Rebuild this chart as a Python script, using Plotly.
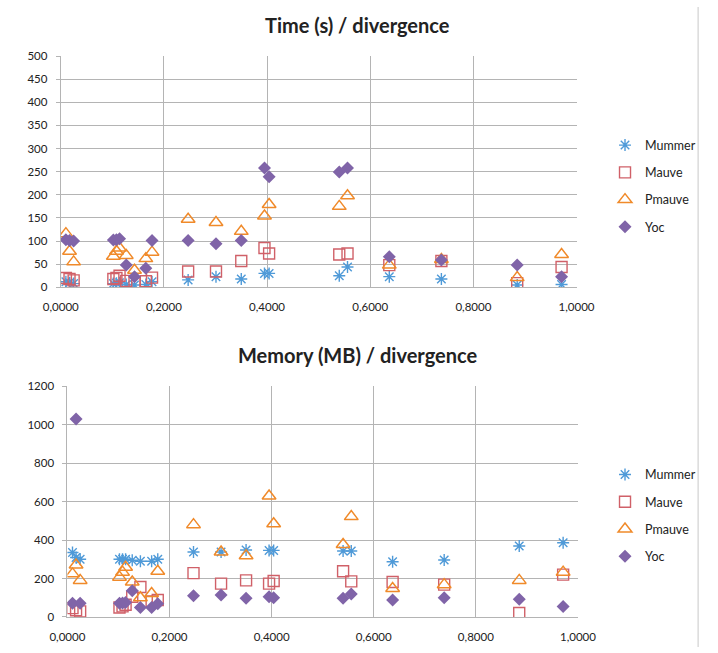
import plotly.graph_objects as go

# divergence values (shared by both charts)
divergence = [0.010, 0.017, 0.025, 0.102, 0.108, 0.114, 0.127, 0.143, 0.165, 0.177,
              0.247, 0.301, 0.350, 0.395, 0.404, 0.540, 0.556, 0.637, 0.738, 0.885, 0.971]

# Time (s)
time_mummer = [12, 10, 8, 8, 9, 10, 6, 5, 6, 12, 16, 23, 18, 30, 30, 25, 44, 23, 18, 5, 6]
time_mauve = [20, 18, 15, 18, 20, 25, 14, 11, 13, 21, 34, 34, 57, 85, 73, 71, 73, 48, 57, 9, 44]
time_pmauve = [116, 78, 55, 67, 78, 85, 69, 37, 62, 76, 147, 140, 121, 154, 179, 175, 198, 48, 60, 21, 71]
time_yoc = [103, 101, 100, 102, 103, 105, 48, 23, 41, 101, 101, 94, 101, 258, 239, 249, 258, 66, 59, 48, 23]

# Memory (MB)
mem_mummer = [335, 309, 300, 300, 300, 300, 295, 290, 290, 300, 338, 338, 348, 346, 346, 343, 343, 287, 296, 369, 386]
mem_mauve = [46, 35, 29, 49, 55, 63, 105, 156, 80, 88, 228, 173, 190, 173, 187, 238, 185, 182, 168, 20, 220]
mem_pmauve = [224, 270, 190, 207, 233, 258, 182, 100, 122, 238, 480, 338, 318, 629, 485, 377, 522, 148, 168, 190, 233]
mem_yoc = [71, 1030, 71, 71, 73, 75, 136, 49, 49, 68, 110, 114, 97, 105, 100, 97, 119, 88, 100, 92, 54]

series_names = ["Mummer", "Mauve", "Pmauve", "Yoc"]
x_ticks = [0, 0.2, 0.4, 0.6, 0.8, 1.0]
x_ticktext = ["0,0000", "0,2000", "0,4000", "0,6000", "0,8000", "1,0000"]
time_ticks = [0, 50, 100, 150, 200, 250, 300, 350, 400, 450, 500]
mem_ticks = [0, 200, 400, 600, 800, 1000, 1200]

styles = {
    "Mummer": dict(symbol="asterisk-open", color="#4f9ad8", size=10, line=dict(width=1.4, color="#4f9ad8")),
    "Mauve": dict(symbol="square-open", color="#d06068", size=11, line=dict(width=1.4, color="#d06068")),
    "Pmauve": dict(symbol="triangle-up-open", color="#f08a2a", size=12, line=dict(width=1.5, color="#f08a2a")),
    "Yoc": dict(symbol="diamond", color="#8064a8", size=10, line=dict(width=0, color="#8064a8")),
}

W, H = 718, 653
FONT = "Lato, 'Open Sans', sans-serif"

fig = go.Figure()

top_data = [time_mummer, time_mauve, time_pmauve, time_yoc]
bot_data = [mem_mummer, mem_mauve, mem_pmauve, mem_yoc]

for name, ys in zip(series_names, top_data):
    fig.add_trace(go.Scatter(x=divergence, y=ys, mode="markers", name=name,
                             marker=styles[name], xaxis="x", yaxis="y",
                             legend="legend", legendgroup="t" + name))
for name, ys in zip(series_names, bot_data):
    fig.add_trace(go.Scatter(x=divergence, y=ys, mode="markers", name=name,
                             marker=styles[name], xaxis="x2", yaxis="y2",
                             legend="legend2", legendgroup="b" + name))

grid = "#b4b4b4"
axis_common = dict(showgrid=True, gridcolor=grid, gridwidth=1, zeroline=False,
                   showline=True, linecolor=grid, linewidth=1,
                   tickfont=dict(family=FONT, size=11.5, color="#222"))

fig.update_layout(
    width=W, height=H,
    margin=dict(l=0, r=0, t=0, b=0),
    paper_bgcolor="white", plot_bgcolor="white",
    font=dict(family=FONT, color="#222"),
    xaxis=dict(domain=[45 / W, 588 / W], range=[0, 1], tickvals=x_ticks, ticktext=x_ticktext,
               anchor="y", ticks="outside", ticklen=9, tickcolor="rgba(0,0,0,0)", **axis_common),
    yaxis=dict(domain=[(H - 286) / H, (H - 50) / H], range=[0, 500], tickvals=time_ticks,
               anchor="x", ticks="outside", ticklen=4, tickcolor=grid, ticklabelstandoff=6, **axis_common),
    xaxis2=dict(domain=[52 / W, 589.5 / W], range=[0, 1], tickvals=x_ticks, ticktext=x_ticktext,
                anchor="y2", ticks="outside", ticklen=9, tickcolor="rgba(0,0,0,0)", **axis_common),
    yaxis2=dict(domain=[(H - 622.3) / H, (H - 387) / H], range=[0, 1200], tickvals=mem_ticks,
                anchor="x2", ticks="outside", ticklen=4, tickcolor=grid, ticklabelstandoff=6, **axis_common),
    legend=dict(x=618 / W, y=1 - 126 / H, xanchor="left", yanchor="top",
                font=dict(family=FONT, size=12.5, color="#222"), itemwidth=30,
                traceorder="grouped", tracegroupgap=8, bgcolor="rgba(0,0,0,0)"),
    legend2=dict(x=618 / W, y=1 - 462 / H, xanchor="left", yanchor="top",
                 font=dict(family=FONT, size=12.5, color="#222"), itemwidth=30,
                 traceorder="grouped", tracegroupgap=8, bgcolor="rgba(0,0,0,0)"),
    annotations=[
        dict(text="<b>Time (s) / divergence</b>", x=357 / W, y=1 - 18 / H, xref="paper", yref="paper",
             showarrow=False, font=dict(family=FONT, size=20, color="#222"), xanchor="center", yanchor="middle"),
        dict(text="<b>Memory (MB) / divergence</b>", x=357 / W, y=1 - 355 / H, xref="paper", yref="paper",
             showarrow=False, font=dict(family=FONT, size=20, color="#222"), xanchor="center", yanchor="middle"),
    ],
    shapes=[
        dict(type="line", xref="paper", yref="paper", x0=716 / W, x1=716 / W, y0=0, y1=1,
             line=dict(color="#c8c8c8", width=1)),
    ],
    showlegend=True,
)

fig.write_html("out.html")
